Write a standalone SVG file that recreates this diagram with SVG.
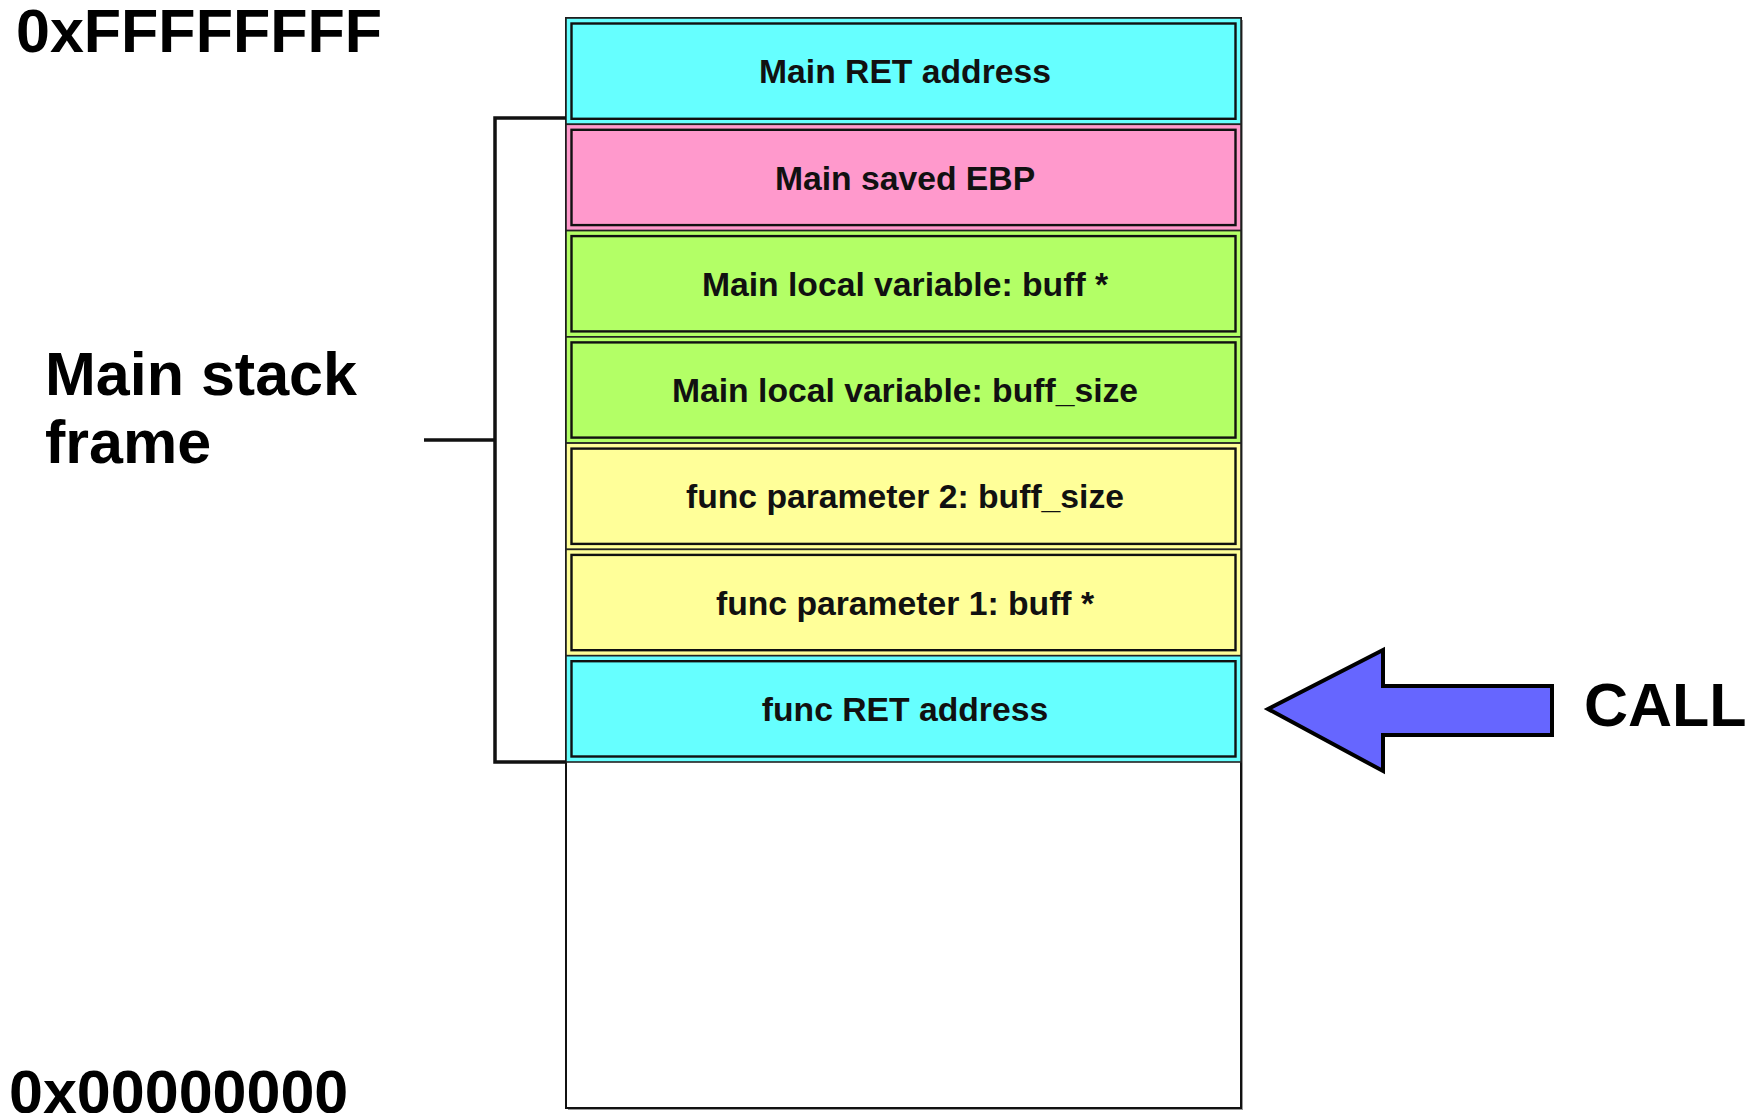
<svg xmlns="http://www.w3.org/2000/svg" width="1760" height="1113" viewBox="0 0 1760 1113">
<style>
.big{font-family:"Liberation Sans",Arial,sans-serif;font-weight:bold;font-size:61px;fill:#000}
.lbl{font-family:"Liberation Sans",Arial,sans-serif;font-weight:bold;font-size:33.7px;fill:#111;text-anchor:middle}
.outer{stroke:#222;stroke-width:1.6}
.inner{fill:none;stroke:#111;stroke-width:2.4}
.cyan{fill:#66ffff}.pink{fill:#ff99cc}.green{fill:#b3ff66}.yellow{fill:#ffff99}
.br{fill:none;stroke:#111;stroke-width:3.5}
</style>
<rect width="1760" height="1113" fill="#fff"/>
<g id="stack">
<rect x="568" y="20" width="675" height="1090" fill="#999"/>
<rect x="566" y="18" width="675" height="1090" fill="#fff" stroke="#111" stroke-width="2"/>
</g>
<g id="row1"><rect class="outer cyan" x="566" y="18" width="675" height="106.3"/><rect class="inner" x="571.5" y="23.5" width="664" height="95.3"/><text class="lbl" x="905" y="83">Main RET address</text></g>
<g id="row2"><rect class="outer pink" x="566" y="124.3" width="675" height="106.3"/><rect class="inner" x="571.5" y="129.8" width="664" height="95.3"/><text class="lbl" x="905" y="189.5">Main saved EBP</text></g>
<g id="row3"><rect class="outer green" x="566" y="230.6" width="675" height="106.3"/><rect class="inner" x="571.5" y="236.1" width="664" height="95.3"/><text class="lbl" x="905" y="295.8">Main local variable: buff *</text></g>
<g id="row4"><rect class="outer green" x="566" y="336.9" width="675" height="106.2"/><rect class="inner" x="571.5" y="342.4" width="664" height="95.2"/><text class="lbl" x="905" y="402">Main local variable: buff_size</text></g>
<g id="row5"><rect class="outer yellow" x="566" y="443.1" width="675" height="106.3"/><rect class="inner" x="571.5" y="448.6" width="664" height="95.3"/><text class="lbl" x="905" y="508.3">func parameter 2: buff_size</text></g>
<g id="row6"><rect class="outer yellow" x="566" y="549.4" width="675" height="106.3"/><rect class="inner" x="571.5" y="554.9" width="664" height="95.3"/><text class="lbl" x="905" y="614.6">func parameter 1: buff *</text></g>
<g id="row7"><rect class="outer cyan" x="566" y="655.7" width="675" height="106.3"/><rect class="inner" x="571.5" y="661.2" width="664" height="95.3"/><text class="lbl" x="905" y="720.9">func RET address</text></g>
<g id="connectors">
<path class="br" d="M566 118 H495 V762 H566"/>
<path class="br" d="M424 440 H495"/>
</g>
<g id="call-arrow">
<polygon points="1268,709 1383,650 1383,686 1552,686 1552,735 1383,735 1383,771" fill="#6666ff" stroke="#000" stroke-width="4" stroke-linejoin="miter"/>
</g>
<g id="labels">
<text class="big" x="16" y="52">0xFFFFFFFF</text>
<text class="big" x="45" y="395">Main stack</text>
<text class="big" x="45" y="463">frame</text>
<text class="big" x="1584" y="726">CALL</text>
<text class="big" x="9" y="1113">0x00000000</text>
</g>
</svg>
